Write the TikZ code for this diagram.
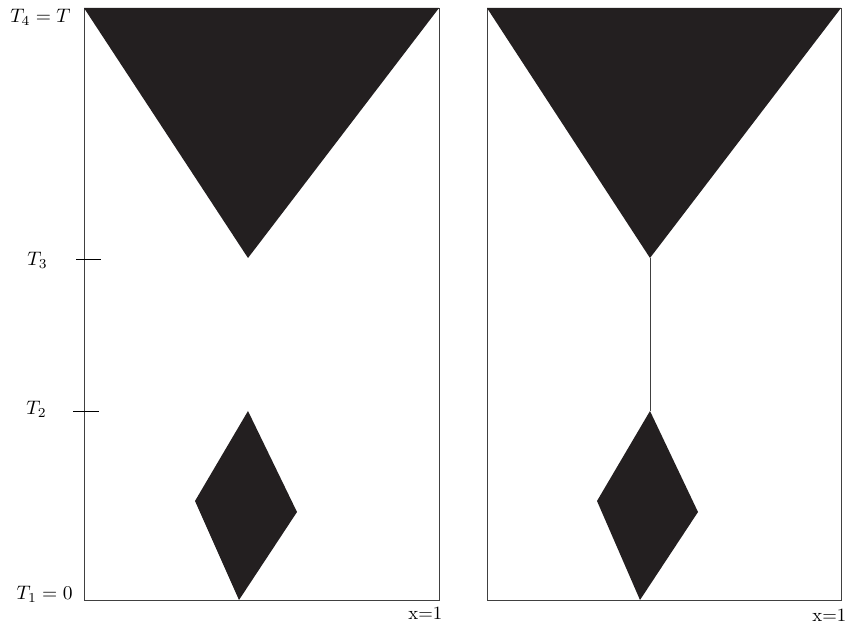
\documentclass[tikz,border=0pt]{standalone}
\usepackage{amsmath}
\usepackage{tikz}
\definecolor{wedge}{HTML}{231F20}

\begin{document}
\begin{tikzpicture}[
  x=0.018cm, y=-0.018cm,
  frame/.style={draw=black!75, line width=0.5pt},
  blob/.style={fill=wedge, draw=none},
  tick/.style={draw=black, line width=0.5pt},
  lab/.style={inner sep=0pt, anchor=base east},
  xlab/.style={inner sep=0pt, anchor=base west, font=\fontsize{9.6}{11}\selectfont}
]
\useasboundingbox (0,0) rectangle (848,628);
% left panel
\draw[frame] (84,8) rectangle (439,600);
\fill[blob] (84,8) -- (439,8) -- (248,258) -- cycle;
\fill[blob] (248,411) -- (297,512) -- (239,600) -- (195,501) -- cycle;
\coordinate (t3) at (84,259);
\coordinate (t2) at (84,411);
\draw[tick] (t3) ++(-8,0) -- ++(25,0);
\draw[tick] (t2) ++(-11,0) -- ++(26,0);
\node[lab] (tfour) at (71,23) {$T_4=T$};
\node[lab] (tthree) at (48,266) {$T_3$};
\node[lab] (ttwo) at (47,415) {$T_2$};
\node[lab] (tone) at (73,600) {$T_1=0$};
\node[xlab] (xleft) at (408,620) {x=1};
% right panel
\draw[frame] (487,8) rectangle (841,600);
\fill[blob] (487,8) -- (841,8) -- (650,258) -- cycle;
\fill[blob] (650,411) -- (698,512) -- (640,600) -- (597,501) -- cycle;
\coordinate (apex) at (650,258);
\coordinate (tip) at (650,411);
\draw[frame] (apex) -- (tip);
\node[xlab] (xright) at (812,622) {x=1};
\end{tikzpicture}
\end{document}
